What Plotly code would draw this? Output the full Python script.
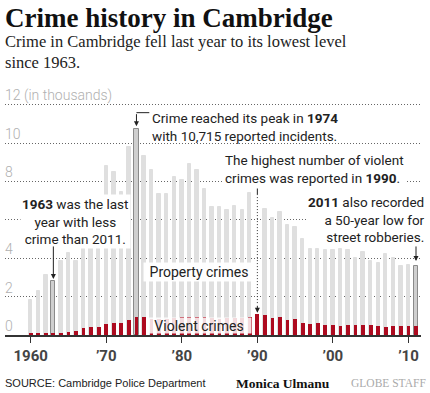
import plotly.graph_objects as go

# ---------------- data (thousands of incidents) ----------------
years = list(range(1960, 2012))
total_crimes = [1.82, 2.29, 3.13, 2.81, 3.87, 4.26, 3.87, 4.64, 5.78, 7.20,
                8.80, 8.51, 7.46, 9.81, 10.715, 9.32, 8.59, 7.34, 7.34, 8.21,
                8.07, 8.91, 8.59, 7.60, 6.68, 6.68, 6.51, 6.72, 6.51, 7.38,
                7.00, 6.55, 6.08, 6.42, 5.71, 5.61, 4.98, 4.48, 4.48, 4.43,
                4.43, 4.48, 4.43, 3.99, 4.34, 3.85, 3.77, 4.20, 4.01, 3.59,
                3.65, 3.59]
violent_crimes = [0.10, 0.10, 0.10, 0.10, 0.12, 0.15, 0.19, 0.35, 0.40, 0.43,
                  0.57, 0.64, 0.64, 0.78, 0.94, 0.94, 0.85, 0.82, 0.85, 0.88,
                  0.95, 0.96, 0.95, 0.95, 0.88, 0.85, 0.86, 0.88, 0.90, 0.92,
                  1.09, 1.04, 0.90, 0.94, 0.78, 0.82, 0.64, 0.57, 0.61, 0.54,
                  0.52, 0.47, 0.50, 0.52, 0.50, 0.50, 0.47, 0.43, 0.49, 0.47,
                  0.45, 0.47]
highlight_years = [1963, 1974, 2011]
hidden_years = [1990]
x_tick_vals = [1960, 1970, 1980, 1990, 2000, 2010]
x_tick_text = ["1960", "\u201970", "\u201980", "\u201990", "\u201900", "\u201910"]
y_tick_vals = [0, 2, 4, 6, 8, 10, 12]
y_tick_text = ["0", "2", "4", "", "8", "10", "12 (in thousands)"]

# ---------------- styling ----------------
GRAY = "#dfdfdf"
GRAY_HI = "#cfcfcf"
RED = "#ad0a1f"
SANS = "Roboto, Arial, sans-serif"
SERIF = "Liberation Serif, Times New Roman, serif"

fill = []
line_col = []
widths = []
for y in years:
    if y in hidden_years:
        fill.append("rgba(0,0,0,0)")
        line_col.append("rgba(0,0,0,0)")
        widths.append(0.45)
    elif y in highlight_years:
        fill.append(GRAY_HI)
        line_col.append("#8a8a8a")
        widths.append(0.56)
    else:
        fill.append(GRAY)
        line_col.append(GRAY)
        widths.append(0.45)

fig = go.Figure()
fig.add_trace(go.Bar(x=years, y=total_crimes, width=widths,
                     marker=dict(color=fill, line=dict(color=line_col, width=1)),
                     hoverinfo="skip", showlegend=False))
fig.add_trace(go.Bar(x=years, y=violent_crimes, width=0.5,
                     marker=dict(color=RED, line=dict(width=0)),
                     hoverinfo="skip", showlegend=False))

W, H = 430, 393
ML, MR, MT, MB = 5, 9, 100, 58


def px(xp):
    return (xp - ML) / (W - ML - MR)


def py(yp):
    return (H - MB - yp) / (H - MT - MB)


P = dict(xref="paper", yref="paper", showarrow=False)
ann = []
# title & subtitle
ann.append(dict(text="<b>Crime history in Cambridge</b>", x=px(3), y=py(18),
                xanchor="left", yanchor="middle",
                font=dict(family=SERIF, size=27, color="#111"), **P))
ann.append(dict(text="Crime in Cambridge fell last year to its lowest level<br>since 1963.",
                x=px(3), y=py(52), xanchor="left", yanchor="middle", align="left",
                font=dict(family=SERIF, size=16.5, color="#222"), **P))
# y-axis labels (placed above gridlines)
for v, t in zip(y_tick_vals, y_tick_text):
    if t:
        ann.append(dict(text=t, xref="paper", yref="y", x=px(3), y=v, yshift=9,
                        xanchor="left", yanchor="middle", showarrow=False,
                        font=dict(family=SANS, size=14, color="#b0b0b0", weight=300)))
# note texts
ann.append(dict(text="Crime reached its peak in <b>1974</b><br>with 10,715 reported incidents.",
                x=px(150), y=py(126.5), xanchor="left", yanchor="middle", align="left",
                font=dict(family=SANS, size=13.5, color="#222"), **P))
ann.append(dict(text="The highest number of violent<br>crimes was reported in <b>1990</b>.",
                x=px(222), y=py(168.5), xanchor="left", yanchor="middle", align="left",
                bgcolor="white", borderpad=2,
                font=dict(family=SANS, size=13.5, color="#222"), **P))
ann.append(dict(text="<b>1963</b> was the last<br>year with less<br>crime than 2011.",
                x=px(75), y=py(221.5), xanchor="center", yanchor="middle", align="center",
                bgcolor="white", borderpad=1,
                font=dict(family=SANS, size=13.5, color="#222"), **P))
ann.append(dict(text="<b>2011</b> also recorded<br>a 50-year low for<br>street robberies.",
                x=px(427), y=py(219.5), xanchor="right", yanchor="middle", align="right",
                bgcolor="white", borderpad=1,
                font=dict(family=SANS, size=13.5, color="#222"), **P))
ann.append(dict(text="Property crimes", x=px(198.5), y=py(271.5), width=108, height=16,
                xanchor="center", yanchor="middle", bgcolor="rgba(255,255,255,0.95)",
                borderpad=1, font=dict(family=SANS, size=14, color="#222"), **P))
ann.append(dict(text="Violent crimes", x=px(199), y=py(325), width=102, height=13,
                xanchor="center", yanchor="middle", bgcolor="rgba(255,255,255,0.85)",
                borderpad=1, font=dict(family=SANS, size=14, color="#222"), **P))
# footer
ann.append(dict(text="SOURCE: Cambridge Police Department", x=px(3), y=py(383),
                xanchor="left", yanchor="middle",
                font=dict(family="Liberation Sans, Arial, sans-serif", size=11, color="#222"), **P))
ann.append(dict(text="<b>Monica Ulmanu</b>", x=px(234), y=py(383),
                xanchor="left", yanchor="middle",
                font=dict(family=SERIF, size=13.5, color="#111"), **P))
ann.append(dict(text="GLOBE STAFF", x=px(428), y=py(383),
                xanchor="right", yanchor="middle",
                font=dict(family=SERIF, size=11.5, color="#aaaaaa"), **P))

# arrows (data coordinates)
arrow_common = dict(text="", showarrow=True, arrowhead=2, arrowsize=1, arrowwidth=1,
                    arrowcolor="#222", xref="x", yref="y", axref="x", ayref="y")
ann.append(dict(x=1974, y=10.87, ax=1974, ay=11.58, **arrow_common))
ann.append(dict(x=1963, y=2.92, ax=1963, ay=4.69, **arrow_common))
ann.append(dict(x=2011, y=3.85, ax=2011, ay=4.69, **arrow_common))
ann.append(dict(x=1990, y=1.16, ax=1990, ay=1.6, **arrow_common))

shapes = [
    dict(type="line", xref="x", yref="y", x0=1974, x1=1975.7, y0=11.58, y1=11.58,
         line=dict(color="#222", width=1)),
    dict(type="line", xref="x", yref="y", x0=1990, x1=1990, y0=7.76, y1=7.34,
         line=dict(color="#222", width=1)),
    dict(type="line", xref="x", yref="y", x0=1990, x1=1990, y0=7.34, y1=1.6,
         line=dict(color="#333", width=1, dash="1px,2px")),
]

fig.update_layout(
    width=W, height=H,
    margin=dict(l=ML, r=MR, t=MT, b=MB, pad=0),
    paper_bgcolor="white", plot_bgcolor="white",
    barmode="overlay", bargap=0,
    annotations=ann, shapes=shapes,
    xaxis=dict(range=[1956.6, 2011.66], tickvals=x_tick_vals, ticktext=x_tick_text,
               showgrid=False, zeroline=False, showline=True, linecolor="#333",
               linewidth=1.5, ticks="outside", ticklen=6, tickcolor="#333", tickwidth=1,
               tickfont=dict(family=SANS, size=15, color="#444", weight="bold"),
               fixedrange=True),
    yaxis=dict(range=[0, 12.24], tickvals=y_tick_vals,
               showgrid=True, gridcolor="#666", griddash="1px,2px", gridwidth=1,
               zeroline=False, ticks="", showticklabels=False,
               fixedrange=True),
)

fig.write_html("out.html", config={"displayModeBar": False},
               post_script="document.body.style.margin='0';")
